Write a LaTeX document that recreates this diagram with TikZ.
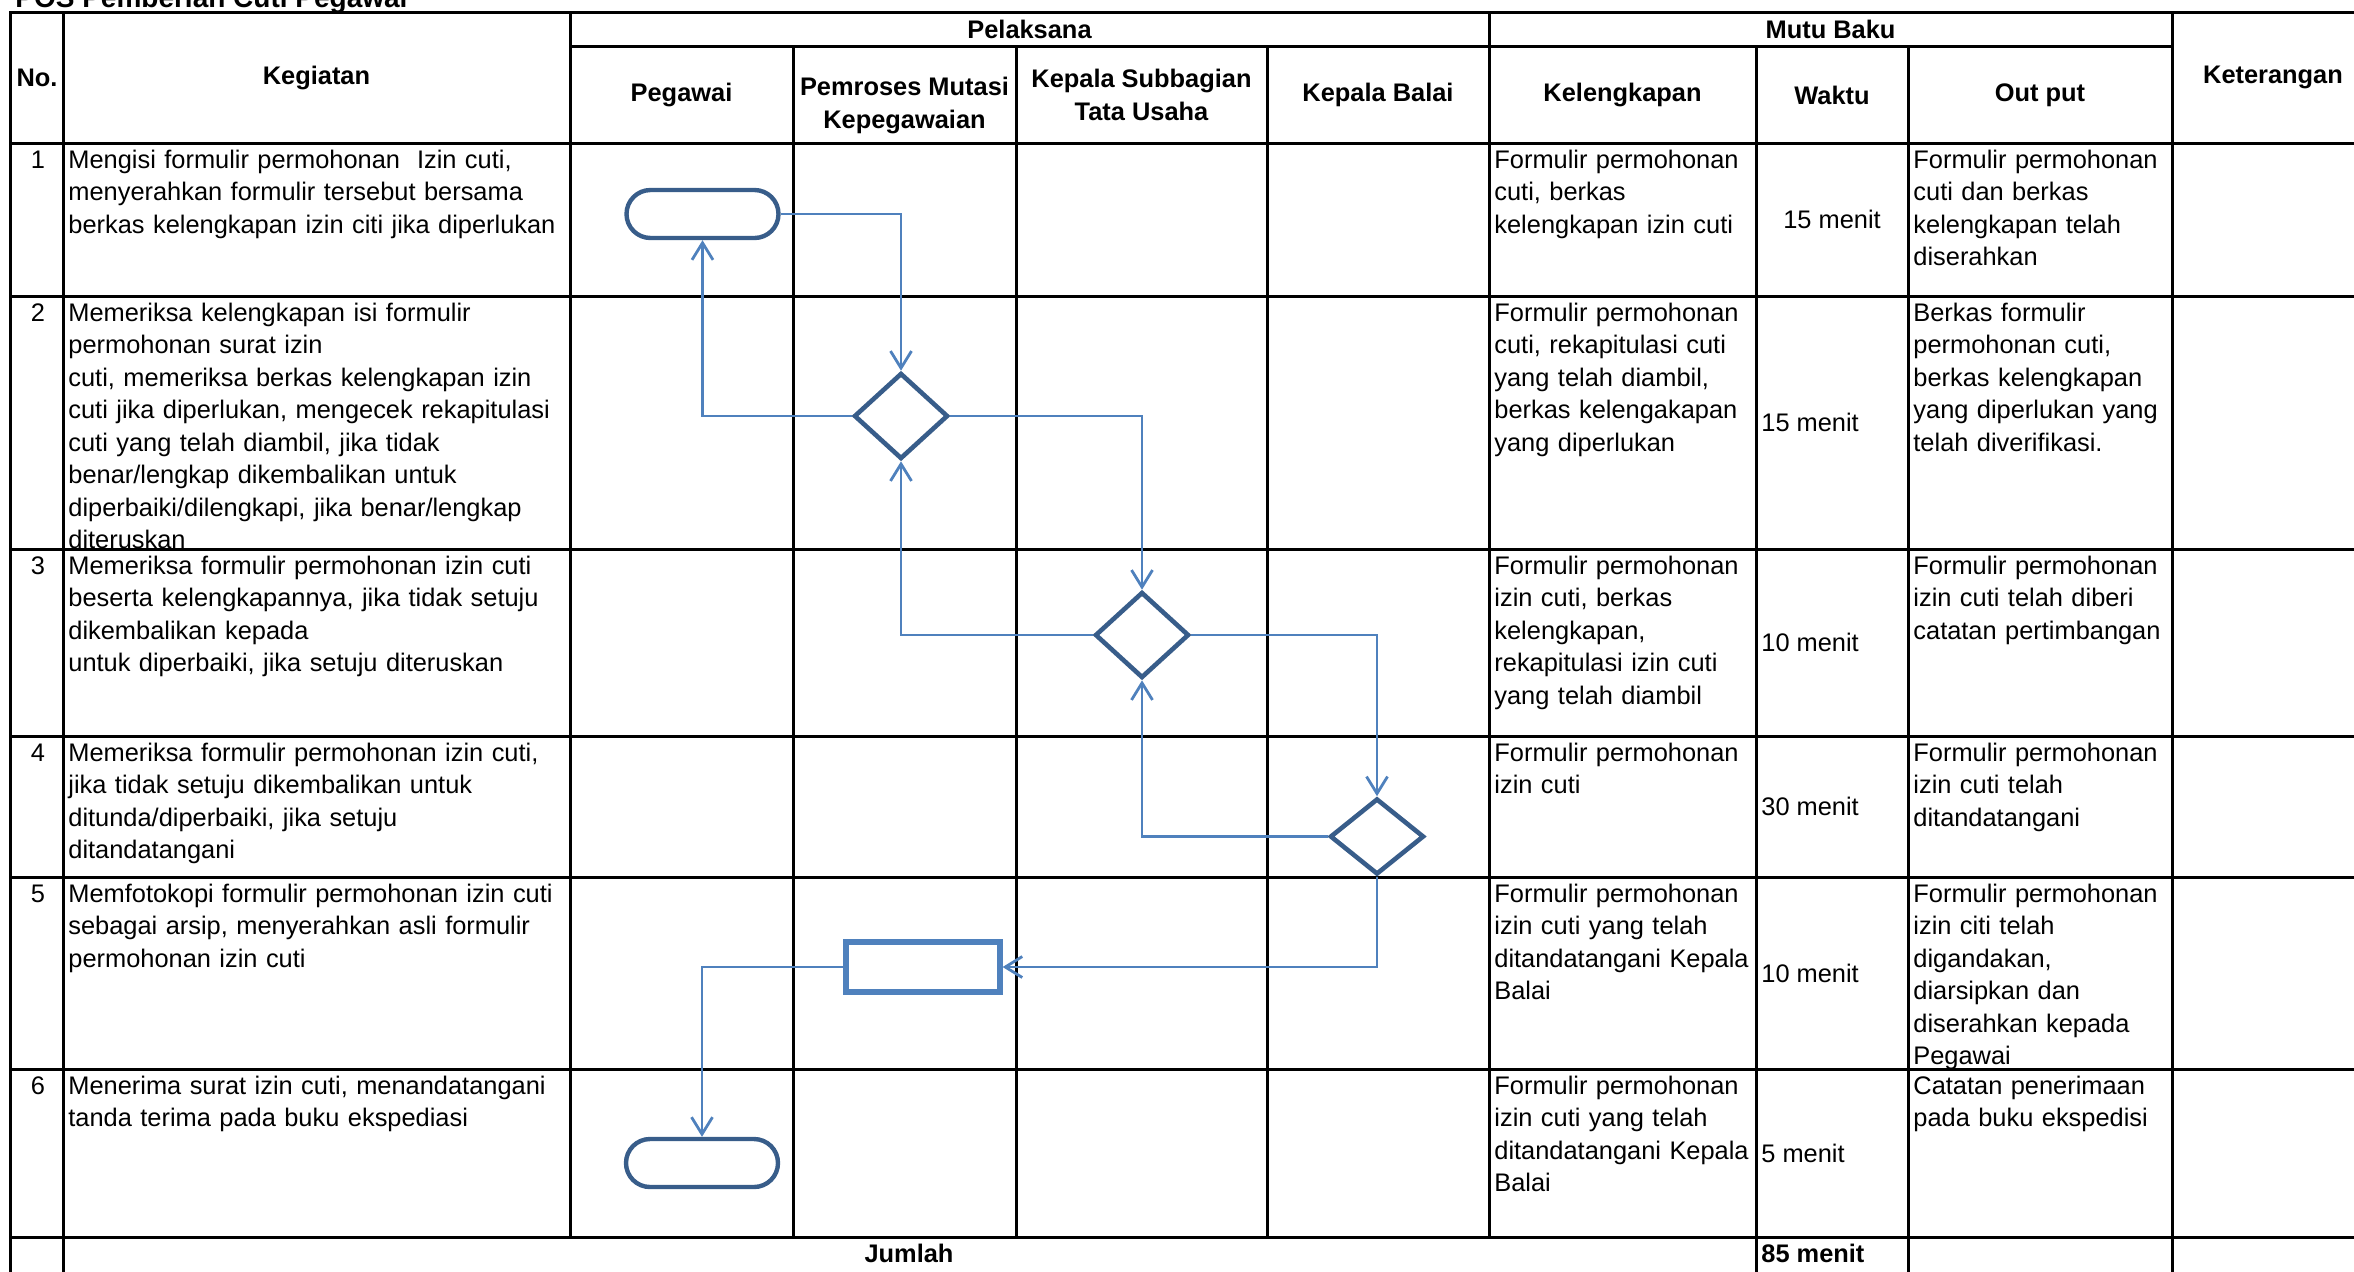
\documentclass[tikz,border=0pt]{standalone}
\usepackage{fontspec}
\setmainfont{Liberation Sans}
\usepackage{xcolor}
\usepackage{tikz}
\usetikzlibrary{positioning,shapes,arrows.meta}

\definecolor{birumuda}{HTML}{4F81BD}
\definecolor{birutua}{HTML}{385D8A}

\begin{document}
\begin{tikzpicture}[x=0.5pt, y=-0.5pt,
			garis/.style = {line width=1.5pt, draw=black, line cap=rect},
			kepala/.style = {font=\fontsize{12.7}{16.5}\selectfont\bfseries, align=center, inner sep=0pt},
			isi/.style = {font=\fontsize{12.7}{16.25}\selectfont, align=left, text width=300pt,
				anchor=north west, inner sep=0pt, execute at begin node=\strut},
			nomor/.style = {font=\fontsize{12.7}{16.25}\selectfont, anchor=north, inner sep=0pt,
				execute at begin node=\strut},
			waktu/.style = {font=\fontsize{12.7}{16.25}\selectfont, anchor=west, inner sep=0pt},
			terminal/.style = {rounded rectangle, draw=birutua, line width=2.2pt,
				minimum width=76pt, minimum height=24pt, inner sep=0pt},
			keputusan/.style = {diamond, draw=birutua, line width=2.3pt,
				minimum width=47pt, minimum height=43pt, inner sep=0pt},
			proses/.style = {rectangle, draw=birumuda, line width=2.6pt,
				minimum width=77pt, minimum height=25pt, inner sep=0pt},
			alur/.style = {draw=birumuda, line width=1.4pt,
				-{Straight Barb[length=8.5pt, width=10.5pt]}}]
	\useasboundingbox (0,0) rectangle (2354,1271);
	\node[kepala, font=\fontsize{14}{17}\selectfont\bfseries, anchor=base west] (judul) at (15,7) {POS Pemberian Cuti Pegawai};

	% garis tabel
	\draw[garis] (10.5,12) -- (2360,12);
	\draw[garis] (570,46.5) -- (2172,46.5);
	\foreach \y in {143,296,549,736,877,1069,1237}
		\draw[garis] (10.5,\y) -- (2360,\y);
	\foreach \x in {10.5,63,2172}
		\draw[garis] (\x,12) -- (\x,1280);
	\foreach \x in {1756,1908}
		\draw[garis] (\x,46.5) -- (\x,1280);
	\foreach \x in {570,1489}
		\draw[garis] (\x,12) -- (\x,1237);
	\foreach \x in {793,1016,1267}
		\draw[garis] (\x,46.5) -- (\x,1237);

	% kepala tabel
	\node[kepala] (hno) at (37,77.5) {No.};
	\node[kepala] (hkeg) at (316.5,77.5) {Kegiatan};
	\node[kepala] (hpel) at (1029.5,29) {Pelaksana};
	\node[kepala] (hmutu) at (1830.5,29) {Mutu Baku};
	\node[kepala] (hpeg) at (681.5,95) {Pegawai};
	\node[kepala] (hpem) at (904.5,105) {Pemroses Mutasi\\Kepegawaian};
	\node[kepala] (hkasub) at (1141.5,95) {Kepala Subbagian\\Tata Usaha};
	\node[kepala] (hkabal) at (1378,95) {Kepala Balai};
	\node[kepala] (hkel) at (1622.5,95) {Kelengkapan};
	\node[kepala] (hwkt) at (1832,95) {Waktu};
	\node[kepala] (hout) at (2040,95) {Out put};
	\node[kepala] (hket) at (2273,77.5) {Keterangan};

	% baris 1
	\node[nomor] (no1) at (38,145) {1};
	\node[isi] (keg1) at (68,145) {Mengisi formulir permohonan\ \ Izin cuti,\\menyerahkan formulir tersebut bersama\\berkas kelengkapan izin citi jika diperlukan};
	\node[isi] (kel1) at (1494,145) {Formulir permohonan\\cuti, berkas\\kelengkapan izin cuti};
	\node[waktu, anchor=center] (wkt1) at (1832,219.5) {15 menit};
	\node[isi] (out1) at (1913,145) {Formulir permohonan\\cuti dan berkas\\kelengkapan telah\\diserahkan};

	% baris 2
	\node[nomor] (no2) at (38,298) {2};
	\begin{scope}
		\clip (64,297) rectangle (569,548);
		\node[isi] (keg2) at (68,298) {Memeriksa kelengkapan isi formulir\\permohonan surat izin\\cuti, memeriksa berkas kelengkapan izin\\cuti jika diperlukan, mengecek rekapitulasi\\cuti yang telah diambil, jika tidak\\benar/lengkap dikembalikan untuk\\diperbaiki/dilengkapi, jika benar/lengkap\\diteruskan};
	\end{scope}
	\node[isi] (kel2) at (1494,298) {Formulir permohonan\\cuti, rekapitulasi cuti\\yang telah diambil,\\berkas kelengakapan\\yang diperlukan};
	\node[waktu] (wkt2) at (1761,422.5) {15 menit};
	\node[isi] (out2) at (1913,298) {Berkas formulir\\permohonan cuti,\\berkas kelengkapan\\yang diperlukan yang\\telah diverifikasi.};

	% baris 3
	\node[nomor] (no3) at (38,551) {3};
	\node[isi] (keg3) at (68,551) {Memeriksa formulir permohonan izin cuti\\beserta kelengkapannya, jika tidak setuju\\dikembalikan kepada\\untuk diperbaiki, jika setuju diteruskan};
	\node[isi] (kel3) at (1494,551) {Formulir permohonan\\izin cuti, berkas\\kelengkapan,\\rekapitulasi izin cuti\\yang telah diambil};
	\node[waktu] (wkt3) at (1761,642.5) {10 menit};
	\node[isi] (out3) at (1913,551) {Formulir permohonan\\izin cuti telah diberi\\catatan pertimbangan};

	% baris 4
	\node[nomor] (no4) at (38,738) {4};
	\node[isi] (keg4) at (68,738) {Memeriksa formulir permohonan izin cuti,\\jika tidak setuju dikembalikan untuk\\ditunda/diperbaiki, jika setuju\\ditandatangani};
	\node[isi] (kel4) at (1494,738) {Formulir permohonan\\izin cuti};
	\node[waktu] (wkt4) at (1761,806.5) {30 menit};
	\node[isi] (out4) at (1913,738) {Formulir permohonan\\izin cuti telah\\ditandatangani};

	% baris 5
	\node[nomor] (no5) at (38,879) {5};
	\node[isi] (keg5) at (68,879) {Memfotokopi formulir permohonan izin cuti\\sebagai arsip, menyerahkan asli formulir\\permohonan izin cuti};
	\node[isi] (kel5) at (1494,879) {Formulir permohonan\\izin cuti yang telah\\ditandatangani Kepala\\Balai};
	\node[waktu] (wkt5) at (1761,973) {10 menit};
	\begin{scope}
		\clip (1909,878) rectangle (2171,1068);
		\node[isi] (out5) at (1913,879) {Formulir permohonan\\izin citi telah\\digandakan,\\diarsipkan dan\\diserahkan kepada\\Pegawai};
	\end{scope}

	% baris 6
	\node[nomor] (no6) at (38,1071) {6};
	\node[isi] (keg6) at (68,1071) {Menerima surat izin cuti, menandatangani\\tanda terima pada buku ekspediasi};
	\node[isi] (kel6) at (1494,1071) {Formulir permohonan\\izin cuti yang telah\\ditandatangani Kepala\\Balai};
	\node[waktu] (wkt6) at (1761,1153) {5 menit};
	\node[isi] (out6) at (1913,1071) {Catatan penerimaan\\pada buku ekspedisi};

	% jumlah
	\node[kepala, anchor=north, execute at begin node=\strut] (jumlah) at (909,1239) {Jumlah};
	\node[kepala, anchor=north west, execute at begin node=\strut] (total) at (1761,1239) {85 menit};

	% bagan alir
	\node[terminal] (mulai) at (702.5,214) {};
	\node[keputusan] (cek1) at (901,416) {};
	\node[keputusan] (cek2) at (1142,635) {};
	\node[keputusan, minimum height=38pt] (cek3) at (1377,836.5) {};
	\node[proses] (salin) at (923,967) {};
	\node[terminal] (selesai) at (702,1163) {};

	\draw[alur] (mulai.east) -| (cek1.north);
	\draw[alur] (cek1.west) -| (mulai.south);
	\draw[alur] (cek1.east) -| (cek2.north);
	\draw[alur] (cek2.west) -| (cek1.south);
	\draw[alur] (cek2.east) -| (cek3.north);
	\draw[alur] (cek3.west) -| (cek2.south);
	\draw[alur] (cek3.south) |- (salin.east);
	\draw[alur] (salin.west) -| (selesai.north);
\end{tikzpicture}
\end{document}
